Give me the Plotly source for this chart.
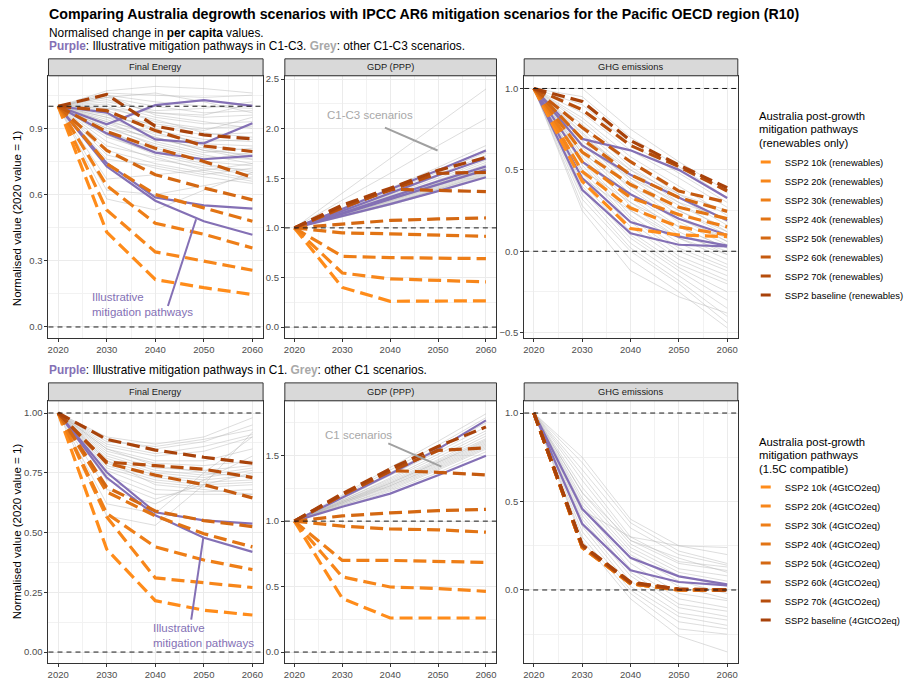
import plotly.graph_objects as go

# ---------------- data ----------------
YEARS = [2020, 2030, 2040, 2050, 2060]
X_TICKS = [2020, 2030, 2040, 2050, 2060]
PANEL_TITLES = ["Final Energy", "GDP (PPP)", "GHG emissions"]
REF_LINES = [0, 1]

LEGEND_TITLE_TOP = ["Australia post-growth", "mitigation pathways", "(renewables only)"]
LEGEND_TITLE_BOTTOM = ["Australia post-growth", "mitigation pathways", "(1.5C compatible)"]
ORANGE_LABELS_TOP = ["SSP2 10k (renewables)", "SSP2 20k (renewables)", "SSP2 30k (renewables)",
                     "SSP2 40k (renewables)", "SSP2 50k (renewables)", "SSP2 60k (renewables)",
                     "SSP2 70k (renewables)", "SSP2 baseline (renewables)"]
ORANGE_LABELS_BOTTOM = ["SSP2 10k (4GtCO2eq)", "SSP2 20k (4GtCO2eq)", "SSP2 30k (4GtCO2eq)",
                        "SSP2 40k (4GtCO2eq)", "SSP2 50k (4GtCO2eq)", "SSP2 60k (4GtCO2eq)",
                        "SSP2 70k (4GtCO2eq)", "SSP2 baseline (4GtCO2eq)"]
ORANGE_COLORS = ["#FF8C1A", "#F7861A", "#EE7E17", "#E27414", "#D46812", "#C55A0F", "#B64D0C", "#A8420A"]

# --- top row: C1-C3 / renewables ---
top_fe_orange = [
    [1, 0.43, 0.215, 0.178, 0.147],
    [1, 0.53, 0.34, 0.30, 0.257],
    [1, 0.64, 0.47, 0.42, 0.358],
    [1, 0.74, 0.60, 0.54, 0.479],
    [1, 0.80, 0.69, 0.63, 0.576],
    [1, 0.885, 0.81, 0.75, 0.677],
    [1, 0.98, 0.89, 0.82, 0.795],
    [1, 1.053, 0.91, 0.87, 0.852],
]
top_fe_purple = [
    [1, 0.918, 1.005, 1.028, 1.002],
    [1, 0.971, 0.85, 0.832, 0.923],
    [1, 0.877, 0.79, 0.76, 0.775],
    [1, 0.742, 0.587, 0.551, 0.536],
    [1, 0.727, 0.572, 0.479, 0.418],
]
top_fe_grey = [
    [1, 1.07, 1.09, 1.08, 1.06], [1, 1.06, 1.05, 1.04, 1.05], [1, 1.05, 1.02, 1.00, 0.99],
    [1, 1.04, 1.00, 0.97, 0.98], [1, 1.03, 0.97, 0.95, 0.96], [1, 1.02, 0.98, 0.99, 1.02],
    [1, 1.01, 0.95, 0.92, 0.93], [1, 1.00, 0.93, 0.90, 0.91], [1, 0.99, 0.94, 0.88, 0.86],
    [1, 0.98, 0.91, 0.87, 0.88], [1, 0.97, 0.89, 0.85, 0.84], [1, 0.96, 0.90, 0.82, 0.80],
    [1, 0.95, 0.87, 0.84, 0.85], [1, 0.94, 0.86, 0.80, 0.78], [1, 0.93, 0.84, 0.79, 0.81],
    [1, 0.92, 0.85, 0.81, 0.77], [1, 0.91, 0.82, 0.77, 0.76], [1, 0.90, 0.83, 0.78, 0.74],
    [1, 0.89, 0.80, 0.75, 0.73], [1, 0.88, 0.81, 0.76, 0.79], [1, 0.87, 0.78, 0.73, 0.71],
    [1, 0.86, 0.79, 0.74, 0.70], [1, 0.84, 0.76, 0.72, 0.69], [1, 0.82, 0.77, 0.71, 0.67],
    [1, 0.80, 0.74, 0.70, 0.66], [1, 0.78, 0.72, 0.68, 0.65], [1, 0.76, 0.73, 0.69, 0.72],
    [1, 0.67, 0.69, 0.71, 0.74], [1, 0.62, 0.60, 0.64, 0.68], [1, 0.58, 0.53, 0.62, 0.70],
    [1, 1.05, 0.96, 0.93, 0.90], [1, 0.95, 0.92, 0.89, 0.95], [1, 1.04, 1.06, 1.02, 0.97],
    [1, 0.99, 0.97, 0.96, 1.01], [1, 0.93, 0.88, 0.83, 0.82], [1, 0.90, 0.86, 0.80, 0.76],
]

top_gdp_orange = [
    [1, 0.40, 0.26, 0.26, 0.265],
    [1, 0.545, 0.486, 0.47, 0.456],
    [1, 0.713, 0.70, 0.695, 0.69],
    [1, 0.95, 0.94, 0.93, 0.915],
    [1, 1.04, 1.075, 1.09, 1.10],
    [1, 1.20, 1.39, 1.38, 1.365],
    [1, 1.21, 1.38, 1.55, 1.56],
    [1, 1.23, 1.40, 1.58, 1.71],
]
top_gdp_purple = [
    [1, 1.19, 1.39, 1.58, 1.78],
    [1, 1.17, 1.35, 1.53, 1.70],
    [1, 1.15, 1.31, 1.47, 1.62],
    [1, 1.14, 1.29, 1.44, 1.585],
    [1, 1.12, 1.24, 1.37, 1.51],
]
top_gdp_grey = [
    [1, 1.35, 1.70, 2.05, 2.40], [1, 1.28, 1.55, 1.83, 2.10], [1, 1.20, 1.40, 1.61, 1.83],
    [1, 1.19, 1.38, 1.58, 1.79], [1, 1.18, 1.37, 1.56, 1.76], [1, 1.17, 1.35, 1.54, 1.73],
    [1, 1.17, 1.34, 1.52, 1.70], [1, 1.16, 1.33, 1.50, 1.68], [1, 1.16, 1.32, 1.48, 1.66],
    [1, 1.15, 1.31, 1.47, 1.64], [1, 1.15, 1.30, 1.46, 1.62], [1, 1.14, 1.29, 1.45, 1.61],
    [1, 1.14, 1.29, 1.44, 1.60], [1, 1.14, 1.28, 1.43, 1.59], [1, 1.13, 1.27, 1.42, 1.58],
    [1, 1.13, 1.27, 1.41, 1.57], [1, 1.13, 1.26, 1.40, 1.56], [1, 1.12, 1.25, 1.39, 1.55],
    [1, 1.12, 1.25, 1.39, 1.54], [1, 1.12, 1.24, 1.38, 1.53], [1, 1.11, 1.23, 1.37, 1.52],
    [1, 1.15, 1.30, 1.45, 1.60], [1, 1.16, 1.31, 1.46, 1.62], [1, 1.14, 1.28, 1.43, 1.58],
]

top_ghg_orange = [
    [1, 0.43, 0.14, 0.10, 0.09],
    [1, 0.49, 0.265, 0.15, 0.10],
    [1, 0.55, 0.33, 0.225, 0.15],
    [1, 0.61, 0.41, 0.27, 0.20],
    [1, 0.69, 0.47, 0.33, 0.245],
    [1, 0.76, 0.55, 0.37, 0.30],
    [1, 0.87, 0.65, 0.52, 0.37],
    [1, 0.92, 0.68, 0.53, 0.39],
]
top_ghg_purple = [
    [1, 0.69, 0.62, 0.50, 0.327],
    [1, 0.65, 0.47, 0.33, 0.19],
    [1, 0.55, 0.35, 0.20, 0.10],
    [1, 0.45, 0.18, 0.09, 0.035],
    [1, 0.378, 0.11, 0.04, 0.03],
]
top_ghg_grey = [
    [1, 1.00, 0.75, 0.55, 0.37], [1, 0.95, 0.70, 0.52, 0.33], [1, 0.90, 0.66, 0.48, 0.30],
    [1, 0.85, 0.62, 0.45, 0.27], [1, 0.82, 0.58, 0.40, 0.22], [1, 0.80, 0.55, 0.35, 0.18],
    [1, 0.78, 0.52, 0.33, 0.16], [1, 0.75, 0.50, 0.30, 0.12], [1, 0.73, 0.47, 0.28, 0.14],
    [1, 0.72, 0.45, 0.25, 0.10], [1, 0.70, 0.43, 0.22, 0.06], [1, 0.68, 0.40, 0.20, 0.08],
    [1, 0.66, 0.38, 0.18, 0.04], [1, 0.64, 0.35, 0.15, 0.02], [1, 0.62, 0.33, 0.12, -0.02],
    [1, 0.60, 0.30, 0.10, 0.00], [1, 0.58, 0.28, 0.08, -0.05], [1, 0.56, 0.25, 0.05, -0.08],
    [1, 0.55, 0.22, 0.02, -0.10], [1, 0.53, 0.20, 0.00, -0.12], [1, 0.50, 0.18, -0.03, -0.15],
    [1, 0.48, 0.15, -0.05, -0.18], [1, 0.45, 0.12, -0.08, -0.20], [1, 0.42, 0.10, -0.10, -0.25],
    [1, 0.40, 0.08, -0.12, -0.30], [1, 0.38, 0.05, -0.15, -0.35], [1, 0.35, 0.02, -0.18, -0.40],
    [1, 0.32, 0.00, -0.20, -0.44], [1, 0.28, -0.05, -0.25, -0.47], [1, 0.25, -0.12, -0.28, -0.38],
    [1, 0.70, 0.50, 0.35, 0.25], [1, 0.65, 0.45, 0.30, 0.20], [1, 0.60, 0.40, 0.25, 0.12],
    [1, 0.55, 0.35, 0.20, 0.06], [1, 0.50, 0.30, 0.15, 0.02], [1, 0.45, 0.25, 0.08, -0.02],
]

# --- bottom row: C1 / 4GtCO2eq ---
bot_fe_orange = [
    [1, 0.43, 0.215, 0.175, 0.155],
    [1, 0.565, 0.31, 0.29, 0.27],
    [1, 0.58, 0.44, 0.385, 0.345],
    [1, 0.67, 0.57, 0.495, 0.44],
    [1, 0.69, 0.59, 0.55, 0.525],
    [1, 0.79, 0.74, 0.70, 0.645],
    [1, 0.795, 0.78, 0.765, 0.73],
    [1, 0.89, 0.845, 0.815, 0.79],
]
bot_fe_purple = [
    [1, 0.752, 0.585, 0.551, 0.537],
    [1, 0.73, 0.572, 0.478, 0.419],
]
bot_fe_grey = [
    [1, 0.90, 0.87, 0.90, 0.98], [1, 0.89, 0.85, 0.88, 0.95], [1, 0.88, 0.86, 0.89, 0.93],
    [1, 0.87, 0.83, 0.86, 0.91], [1, 0.86, 0.82, 0.84, 0.90], [1, 0.85, 0.80, 0.80, 0.85],
    [1, 0.84, 0.79, 0.78, 0.80], [1, 0.83, 0.77, 0.76, 0.78], [1, 0.82, 0.76, 0.74, 0.77],
    [1, 0.81, 0.75, 0.73, 0.76], [1, 0.80, 0.74, 0.72, 0.74], [1, 0.79, 0.73, 0.71, 0.72],
    [1, 0.78, 0.72, 0.70, 0.71], [1, 0.77, 0.71, 0.69, 0.70], [1, 0.76, 0.68, 0.67, 0.68],
    [1, 0.74, 0.66, 0.66, 0.66], [1, 0.72, 0.64, 0.70, 0.75], [1, 0.68, 0.62, 0.72, 0.82],
    [1, 0.62, 0.58, 0.75, 0.90], [1, 0.57, 0.53, 0.70, 0.92], [1, 0.85, 0.78, 0.75, 0.73],
    [1, 0.80, 0.70, 0.68, 0.66],
]

bot_gdp_orange = [
    [1, 0.41, 0.26, 0.26, 0.26],
    [1, 0.574, 0.497, 0.485, 0.464],
    [1, 0.70, 0.70, 0.695, 0.685],
    [1, 0.962, 0.94, 0.934, 0.916],
    [1, 1.04, 1.063, 1.08, 1.09],
    [1, 1.20, 1.386, 1.373, 1.353],
    [1, 1.20, 1.38, 1.54, 1.56],
    [1, 1.21, 1.40, 1.57, 1.72],
]
bot_gdp_purple = [
    [1, 1.18, 1.36, 1.55, 1.77],
    [1, 1.11, 1.21, 1.35, 1.50],
]
bot_gdp_grey = [
    [1, 1.20, 1.41, 1.61, 1.82], [1, 1.19, 1.39, 1.58, 1.79], [1, 1.18, 1.37, 1.56, 1.75],
    [1, 1.17, 1.35, 1.53, 1.72], [1, 1.16, 1.33, 1.51, 1.69], [1, 1.16, 1.32, 1.49, 1.67],
    [1, 1.15, 1.31, 1.47, 1.65], [1, 1.15, 1.30, 1.46, 1.63], [1, 1.14, 1.29, 1.45, 1.62],
    [1, 1.14, 1.28, 1.44, 1.60], [1, 1.13, 1.27, 1.42, 1.58], [1, 1.13, 1.26, 1.41, 1.57],
    [1, 1.12, 1.25, 1.40, 1.56], [1, 1.12, 1.24, 1.39, 1.55], [1, 1.11, 1.23, 1.37, 1.53],
    [1, 1.15, 1.29, 1.45, 1.61], [1, 1.14, 1.27, 1.43, 1.59],
]

bot_ghg_orange = [
    [1, 0.24, 0.035, 0.0, 0.0],
    [1, 0.24, 0.035, 0.0, 0.0],
    [1, 0.24, 0.036, 0.0, 0.0],
    [1, 0.245, 0.036, 0.002, 0.0],
    [1, 0.245, 0.038, 0.002, 0.0],
    [1, 0.25, 0.04, 0.003, 0.0],
    [1, 0.25, 0.042, 0.004, 0.001],
    [1, 0.255, 0.045, 0.005, 0.001],
]
bot_ghg_purple = [
    [1, 0.459, 0.182, 0.077, 0.032],
    [1, 0.374, 0.111, 0.045, 0.026],
]
bot_ghg_grey = [
    [1, 0.75, 0.40, 0.25, 0.24], [1, 0.72, 0.38, 0.22, 0.15], [1, 0.68, 0.35, 0.20, 0.14],
    [1, 0.65, 0.30, 0.16, 0.13], [1, 0.62, 0.28, 0.15, 0.11], [1, 0.58, 0.26, 0.12, 0.08],
    [1, 0.55, 0.24, 0.10, 0.05], [1, 0.52, 0.22, 0.08, 0.02], [1, 0.50, 0.20, 0.05, -0.02],
    [1, 0.48, 0.18, 0.02, -0.05], [1, 0.46, 0.15, -0.02, -0.06], [1, 0.44, 0.12, -0.05, -0.10],
    [1, 0.42, 0.10, -0.08, -0.12], [1, 0.40, 0.08, -0.10, -0.15], [1, 0.38, 0.05, -0.13, -0.17],
    [1, 0.36, 0.02, -0.15, -0.20], [1, 0.33, 0.00, -0.18, -0.22], [1, 0.30, -0.02, -0.22, -0.25],
    [1, 0.28, -0.05, -0.26, -0.35], [1, 0.45, 0.30, 0.25, 0.20], [1, 0.55, 0.28, 0.18, 0.10],
]

# ---------------- style ----------------
FONT = "Liberation Sans, Arial, Helvetica, sans-serif"
PURPLE = "#8470B5"
GREY_LINE = "rgba(180,180,180,0.5)"
GREY_TEXT = "#A8A8A8"
W, H = 909, 681

def px_x(p):
    return p / W

def px_y(p):
    return 1 - p / H

COL_X = [(48, 265), (287, 501), (529, 745)]
ROW_Y = [(74, 337), (400, 663)]
STRIP_H = [57, 382]

panels = [
    dict(grey=top_fe_grey, purple=top_fe_purple, orange=top_fe_orange, yr=[-0.05, 1.138], dt=0.3, fmt=".1f"),
    dict(grey=top_gdp_grey, purple=top_gdp_purple, orange=top_gdp_orange, yr=[-0.11, 2.533], dt=0.5, fmt=".1f"),
    dict(grey=top_ghg_grey, purple=top_ghg_purple, orange=top_ghg_orange, yr=[-0.533, 1.078], dt=0.5, fmt=".1f"),
    dict(grey=bot_fe_grey, purple=bot_fe_purple, orange=bot_fe_orange, yr=[-0.046, 1.051], dt=0.25, fmt=".2f"),
    dict(grey=bot_gdp_grey, purple=bot_gdp_purple, orange=bot_gdp_orange, yr=[-0.084, 1.919], dt=0.5, fmt=".1f"),
    dict(grey=bot_ghg_grey, purple=bot_ghg_purple, orange=bot_ghg_orange, yr=[-0.413, 1.069], dt=0.5, fmt=".1f"),
]

fig = go.Figure()
layout = dict(
    width=W, height=H, autosize=False, margin=dict(l=0, r=0, t=0, b=0),
    paper_bgcolor="white", plot_bgcolor="white",
    font=dict(family=FONT, color="black"),
    showlegend=True,
)
shapes = []
annotations = []

for i, p in enumerate(panels):
    row, col = divmod(i, 3)
    sfx = "" if i == 0 else str(i + 1)
    xa, ya = "x" + sfx, "y" + sfx
    x0, x1 = COL_X[col]
    y0, y1 = ROW_Y[row]
    layout["xaxis" + sfx] = dict(
        domain=[px_x(x0), px_x(x1)], anchor=ya, range=[2018, 2062.2],
        tickvals=X_TICKS, ticks="outside", ticklen=3, tickcolor="#333333",
        tickfont=dict(size=9.5, color="#4D4D4D"), showgrid=True, gridcolor="#EBEBEB", gridwidth=1.1,
        minor=dict(tick0=2025, dtick=10, showgrid=True, gridcolor="#F2F2F2", gridwidth=0.6),
        showline=True, mirror=True, linecolor="#333333", linewidth=1, zeroline=False, fixedrange=True,
    )
    layout["yaxis" + sfx] = dict(
        domain=[px_y(y1), px_y(y0)], anchor=xa, range=p["yr"],
        tick0=0, dtick=p["dt"], tickformat=p["fmt"], ticks="outside", ticklen=3, tickcolor="#333333",
        tickfont=dict(size=9.5, color="#4D4D4D"), showgrid=True, gridcolor="#EBEBEB", gridwidth=1.1,
        minor=dict(tick0=p["dt"] / 2, dtick=p["dt"], showgrid=True, gridcolor="#F2F2F2", gridwidth=0.6),
        showline=True, mirror=True, linecolor="#333333", linewidth=1, zeroline=False, fixedrange=True,
    )
    for s in p["grey"]:
        fig.add_trace(go.Scatter(x=YEARS, y=s, mode="lines", xaxis=xa, yaxis=ya,
                                 line=dict(color=GREY_LINE, width=0.9), showlegend=False, hoverinfo="skip"))
    for s in p["purple"]:
        fig.add_trace(go.Scatter(x=YEARS, y=s, mode="lines", xaxis=xa, yaxis=ya,
                                 line=dict(color=PURPLE, width=2.2), showlegend=False, hoverinfo="skip"))
    for k, s in enumerate(p["orange"]):
        fig.add_trace(go.Scatter(x=YEARS, y=s, mode="lines", xaxis=xa, yaxis=ya,
                                 line=dict(color=ORANGE_COLORS[k], width=3.2, dash="13px,6px"),
                                 showlegend=False, hoverinfo="skip"))
    for r in REF_LINES:
        shapes.append(dict(type="line", xref=xa + " domain", yref=ya, x0=0, x1=1, y0=r, y1=r,
                           line=dict(color="#1A1A1A", width=1, dash="5px,4px"), layer="above"))
    sy = STRIP_H[row]
    shapes.append(dict(type="rect", xref="paper", yref="paper", x0=px_x(x0), x1=px_x(x1),
                       y0=px_y(y0), y1=px_y(sy), fillcolor="#D9D9D9",
                       line=dict(color="#333333", width=1), layer="above"))
    annotations.append(dict(text=PANEL_TITLES[col], xref="paper", yref="paper",
                            x=px_x((x0 + x1) / 2), y=px_y((sy + y0) / 2), showarrow=False,
                            font=dict(size=9.3, color="#1A1A1A"), xanchor="center", yanchor="middle"))

# legend entries (short solid keys, offset toward the label)
LEG_DASH = "0px,11px,10px,100px"
for k, lab in enumerate(ORANGE_LABELS_TOP):
    fig.add_trace(go.Scatter(x=[None], y=[None], mode="lines", name=lab, legend="legend",
                             line=dict(color=ORANGE_COLORS[k], width=3, dash=LEG_DASH),
                             xaxis="x", yaxis="y"))
for k, lab in enumerate(ORANGE_LABELS_BOTTOM):
    fig.add_trace(go.Scatter(x=[None], y=[None], mode="lines", name=lab, legend="legend2",
                             line=dict(color=ORANGE_COLORS[k], width=3, dash=LEG_DASH),
                             xaxis="x4", yaxis="y4"))

leg_common = dict(xanchor="left", yanchor="top", bgcolor="rgba(0,0,0,0)", font=dict(size=9.4, color="black"),
                  itemclick=False, itemdoubleclick=False)
layout["legend"] = dict(x=px_x(752), y=px_y(146), **leg_common)
layout["legend2"] = dict(x=px_x(752), y=px_y(472), **leg_common)

# legend titles, one line each
for title_lines, y_first in ((LEGEND_TITLE_TOP, 114), (LEGEND_TITLE_BOTTOM, 441)):
    for j, line in enumerate(title_lines):
        annotations.append(dict(text=line, xref="paper", yref="paper", x=px_x(764), y=px_y(y_first + 13.6 * j),
                                xanchor="left", yanchor="middle", showarrow=False,
                                font=dict(size=11.3, color="black")))

pointers = [
    ("x", "y", PURPLE, "Illustrative<br>mitigation pathways", 2026.6, 0.10, "left", (2042.6, 0.095, 2048.4, 0.488)),
    ("x2", "y2", GREY_TEXT, "C1-C3 scenarios", 2035.7, 2.14, "center", (2038.9, 2.01, 2049.9, 1.78)),
    ("x4", "y4", PURPLE, "Illustrative<br>mitigation pathways", 2039.2, 0.07, "left", (2047.4, 0.136, 2049.9, 0.48)),
    ("x5", "y5", GREY_TEXT, "C1 scenarios", 2033.3, 1.66, "center", (2039.6, 1.594, 2050.7, 1.417)),
]
for xa, ya, colr, txt, tx, ty, anc, seg in pointers:
    lc = PURPLE if colr == PURPLE else "#A0A0A0"
    shapes.append(dict(type="line", xref=xa, yref=ya, x0=seg[0], y0=seg[1], x1=seg[2], y1=seg[3],
                       line=dict(color=lc, width=2), layer="above"))
    annotations.append(dict(text=txt, xref=xa, yref=ya, x=tx, y=ty, showarrow=False, xanchor=anc,
                            yanchor="middle", align="left", font=dict(size=11.5, color=colr)))

annotations += [
    dict(text="<b>Comparing Australia degrowth scenarios with IPCC AR6 mitigation scenarios for the Pacific OECD region (R10)</b>",
         xref="paper", yref="paper", x=px_x(47), y=px_y(12.5), xanchor="left", yanchor="middle",
         showarrow=False, font=dict(size=14.2, color="black")),
    dict(text="Normalised change in <b>per capita</b> values.",
         xref="paper", yref="paper", x=px_x(47), y=px_y(31.5), xanchor="left", yanchor="middle",
         showarrow=False, font=dict(size=11.85, color="black")),
    dict(text=f"<b><span style='color:{PURPLE}'>Purple</span></b>: Illustrative mitigation pathways in C1-C3. "
              f"<b><span style='color:{GREY_TEXT}'>Grey</span></b>: other C1-C3 scenarios.",
         xref="paper", yref="paper", x=px_x(47), y=px_y(44), xanchor="left", yanchor="middle",
         showarrow=False, font=dict(size=11.85, color="black")),
    dict(text=f"<b><span style='color:{PURPLE}'>Purple</span></b>: Illustrative mitigation pathways in C1. "
              f"<b><span style='color:{GREY_TEXT}'>Grey</span></b>: other C1 scenarios.",
         xref="paper", yref="paper", x=px_x(47), y=px_y(369.5), xanchor="left", yanchor="middle",
         showarrow=False, font=dict(size=11.85, color="black")),
    dict(text="Normalised value (2020 value = 1)", xref="paper", yref="paper", x=px_x(17), y=px_y(217),
         textangle=-90, showarrow=False, xanchor="center", yanchor="middle", font=dict(size=11.5, color="black")),
    dict(text="Normalised value (2020 value = 1)", xref="paper", yref="paper", x=px_x(17), y=px_y(531),
         textangle=-90, showarrow=False, xanchor="center", yanchor="middle", font=dict(size=11.5, color="black")),
]

layout["shapes"] = shapes
layout["annotations"] = annotations
fig.update_layout(**layout)
fig.write_html("out.html", config={"displayModeBar": False, "responsive": False},
               post_script="document.body.style.margin='0px';document.body.style.overflow='hidden';")
